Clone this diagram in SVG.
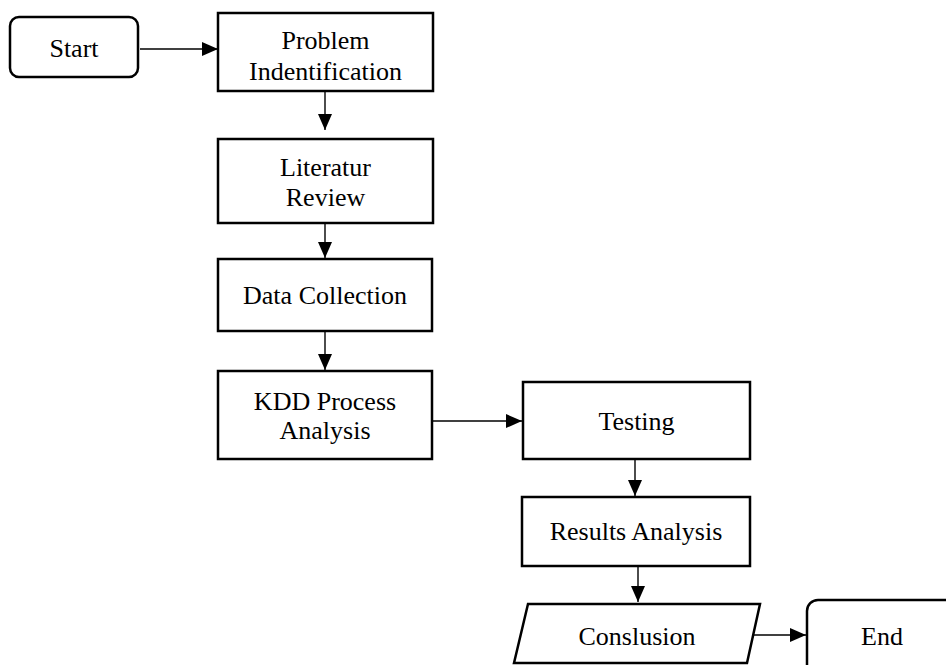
<svg xmlns="http://www.w3.org/2000/svg" width="946" height="665" viewBox="0 0 946 665">
  <style>
    .box { fill: #fff; stroke: #000; stroke-width: 2.5; }
    .lbl { font-family: 'Liberation Serif', 'DejaVu Serif', serif; font-size: 26px; fill: #000; text-anchor: middle; }
    .edge { stroke: #000; stroke-width: 1.4; fill: none; marker-end: url(#arrow); }
  </style>
  <defs>
    <marker id="arrow" markerUnits="userSpaceOnUse" markerWidth="16" markerHeight="14" refX="16" refY="7" orient="auto">
      <path d="M0,0 L16,7 L0,14 Z" fill="#000"/>
    </marker>
  </defs>
  <rect width="946" height="665" fill="#fff"/>

  <g id="connectors">
    <line class="edge" x1="140" y1="49" x2="218" y2="49"/>
    <line class="edge" x1="325" y1="91" x2="325" y2="130"/>
    <line class="edge" x1="325" y1="223" x2="325" y2="258"/>
    <line class="edge" x1="325" y1="331" x2="325" y2="370"/>
    <line class="edge" x1="432" y1="421" x2="522" y2="421"/>
    <line class="edge" x1="635" y1="459" x2="635" y2="496"/>
    <line class="edge" x1="638" y1="566" x2="638" y2="602"/>
    <line class="edge" x1="753" y1="635" x2="806" y2="635"/>
  </g>

  <g id="start">
    <rect class="box" x="10" y="17" width="128" height="60" rx="9"/>
    <text class="lbl" font-family="Liberation Serif, serif" x="74" y="57">Start</text>
  </g>
  <g id="problem">
    <rect class="box" x="218" y="13" width="215" height="78"/>
    <text class="lbl" x="325.5" y="49">Problem</text>
    <text class="lbl" x="325.5" y="80">Indentification</text>
  </g>
  <g id="literature">
    <rect class="box" x="218" y="139" width="215" height="84"/>
    <text class="lbl" x="325.5" y="176">Literatur</text>
    <text class="lbl" x="325.5" y="206">Review</text>
  </g>
  <g id="data">
    <rect class="box" x="218" y="259" width="214" height="72"/>
    <text class="lbl" x="325" y="304">Data Collection</text>
  </g>
  <g id="kdd">
    <rect class="box" x="218" y="371" width="214" height="88"/>
    <text class="lbl" x="325" y="410">KDD Process</text>
    <text class="lbl" x="325" y="439">Analysis</text>
  </g>
  <g id="testing">
    <rect class="box" x="523" y="382" width="227" height="77"/>
    <text class="lbl" x="636.5" y="430">Testing</text>
  </g>
  <g id="results">
    <rect class="box" x="522" y="497" width="228" height="69"/>
    <text class="lbl" x="636" y="540">Results Analysis</text>
  </g>
  <g id="conclusion">
    <polygon class="box" points="528,604 760,604 747,663 514,663"/>
    <text class="lbl" x="637" y="645">Conslusion</text>
  </g>
  <g id="end">
    <rect class="box" x="807" y="600" width="160" height="90" rx="11"/>
    <text class="lbl" x="882" y="645">End</text>
  </g>
</svg>
